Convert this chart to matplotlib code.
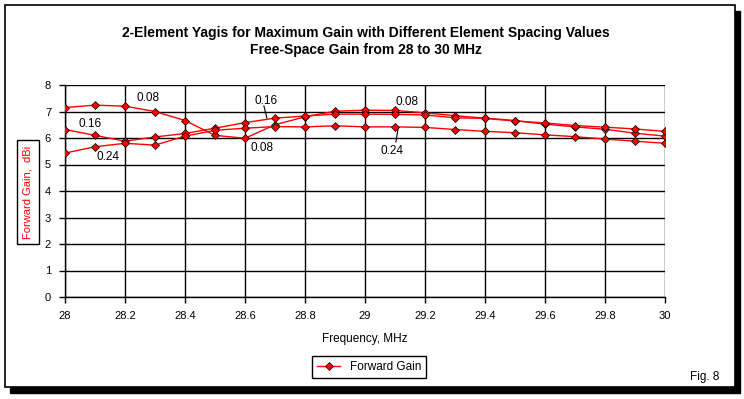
import matplotlib.pyplot as plt
from matplotlib.patches import Rectangle

plt.rcParams['font.family'] = ['Liberation Sans', 'DejaVu Sans']

# frequencies, MHz
freq = [28.0, 28.1, 28.2, 28.3, 28.4, 28.5, 28.6, 28.7, 28.8, 28.9, 29.0,
        29.1, 29.2, 29.3, 29.4, 29.5, 29.6, 29.7, 29.8, 29.9, 30.0]

# forward gain (dBi) per element spacing
gain_008 = [7.15, 7.24, 7.20, 7.00, 6.66, 6.10, 5.99, 6.50, 6.80, 7.01, 7.05,
            7.04, 6.95, 6.84, 6.75, 6.66, 6.52, 6.42, 6.33, 6.18, 6.07]
gain_016 = [6.32, 6.10, 5.88, 6.04, 6.17, 6.37, 6.58, 6.75, 6.83, 6.90, 6.90,
            6.89, 6.87, 6.76, 6.74, 6.64, 6.57, 6.47, 6.41, 6.34, 6.25]
gain_024 = [5.43, 5.67, 5.80, 5.73, 6.07, 6.29, 6.37, 6.43, 6.42, 6.46, 6.42,
            6.42, 6.40, 6.32, 6.25, 6.20, 6.12, 6.05, 5.96, 5.88, 5.80]

W, H = 744, 399
fig = plt.figure(figsize=(W / 100, H / 100), dpi=100)
fig.patch.set_facecolor('white')

# outer frame with drop shadow
fig.patches.append(Rectangle((10 / W, 1 - 393 / H), 730 / W, 382 / H, transform=fig.transFigure,
                             facecolor='black', edgecolor='black', zorder=-10))
fig.patches.append(Rectangle((5 / W, 1 - 387 / H), 730 / W, 382 / H, transform=fig.transFigure,
                             facecolor='white', edgecolor='black', lw=1.2, zorder=-9))

ax = fig.add_axes([65 / W, 1 - 297 / H, 600 / W, 212 / H])
ax.set_facecolor('white')

style = dict(color='red', lw=1, marker='D', markersize=4.2, markerfacecolor='red',
             markeredgecolor='black', markeredgewidth=0.5)
line, = ax.plot(freq, gain_008, **style, zorder=3)
ax.plot(freq, gain_016, **style, zorder=3)
ax.plot(freq, gain_024, **style, zorder=3)

ax.set_xlim(28, 30)
ax.set_ylim(0, 8)
ax.set_xticks([28, 28.2, 28.4, 28.6, 28.8, 29, 29.2, 29.4, 29.6, 29.8, 30])
ax.set_xticklabels(['28', '28.2', '28.4', '28.6', '28.8', '29', '29.2', '29.4', '29.6', '29.8', '30'])
ax.set_yticks(range(0, 9))
ax.grid(True, color='black', lw=1)
ax.set_axisbelow(True)
for s in ['top', 'right']:
    ax.spines[s].set_visible(False)
ax.spines['left'].set_linewidth(1)
ax.spines['bottom'].set_linewidth(1)
ax.tick_params(labelsize=8, length=4, width=1, direction='out', pad=6)
ax.set_xlabel('Frequency, MHz', fontsize=8.5, labelpad=9)

# spacing labels
lbl = dict(fontsize=8.5, ha='center', va='center')
ax.text(28.083, 6.53, '0.16', **lbl)
ax.text(28.143, 5.28, '0.24', **lbl)
ax.text(28.277, 7.51, '0.08', **lbl)
ax.text(28.67, 7.41, '0.16', **lbl)
ax.text(28.657, 5.63, '0.08', **lbl)
ax.text(29.14, 7.37, '0.08', **lbl)
ax.text(29.09, 5.51, '0.24', **lbl)
ax.plot([28.663, 28.673], [7.21, 6.75], color='black', lw=0.8)
ax.plot([29.11, 29.103], [6.34, 5.85], color='black', lw=0.8)

# titles
fig.text(366 / W, 1 - 33 / H, '2-Element Yagis for Maximum Gain with Different Element Spacing Values',
         ha='center', va='center', fontsize=10, fontweight='bold')
fig.text(366 / W, 1 - 50 / H, 'Free-Space Gain from 28 to 30 MHz',
         ha='center', va='center', fontsize=10, fontweight='bold')

# y axis title in a box
fig.text(28 / W, 1 - 192 / H, 'Forward Gain,  dBi', rotation=90, color='red', fontsize=8,
         ha='center', va='center',
         bbox=dict(boxstyle='square,pad=0.5', facecolor='white', edgecolor='black', lw=1))

leg = fig.legend([line], ['Forward Gain'], loc='center', bbox_to_anchor=(369 / W, 1 - 367 / H),
                 fontsize=8.5, fancybox=False, framealpha=1, edgecolor='black', handlelength=2.0,
                 borderpad=0.4)
leg.get_frame().set_linewidth(1)

fig.text(705 / W, 1 - 377 / H, 'Fig. 8', ha='center', va='center', fontsize=8.5)

fig.savefig('out.png', dpi=100)
